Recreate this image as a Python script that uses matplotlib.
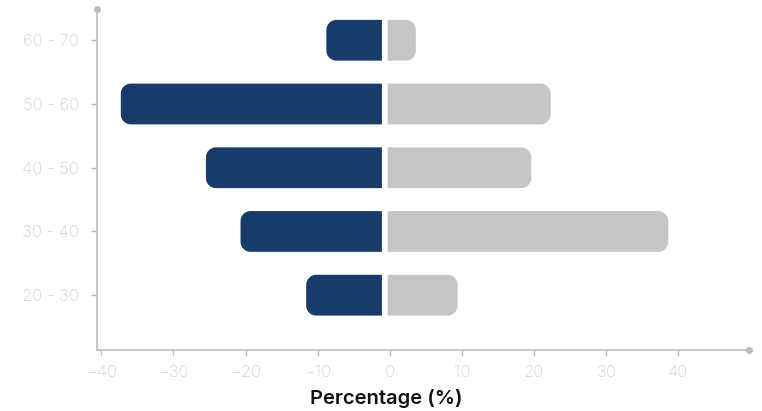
import numpy as np
import matplotlib.pyplot as plt
from matplotlib.path import Path
from matplotlib.patches import PathPatch

# age groups, bottom to top
groups = ['20 - 30', '30 - 40', '40 - 50', '50 - 60', '60 - 70']
# outer ends of the bars (percent)
left_vals = [-11.6, -20.7, -25.5, -37.3, -8.8]
right_vals = [9.4, 38.6, 19.6, 22.3, 3.6]

blue = '#173c6a'
grey = '#c6c6c6'
axis_col = '#bdbdbd'
label_col = '#d2d2d2'

plt.rcParams['font.family'] = ['Inter', 'DejaVu Sans']

fig = plt.figure(figsize=(7.62, 4.11), dpi=100)
ax = fig.add_axes([0.1273, 0.1484, 0.983 - 0.1273, 0.978 - 0.1484])
ax.set_xlim(-40.6, 49.8)
ax.set_ylim(-0.86, 4.49)

# corner radius in pixels -> data units
bbox = ax.get_window_extent()
px_x = bbox.width / (49.8 + 40.6)
px_y = bbox.height / (4.49 + 0.86)
r = 10
rx, ry = r / px_x, r / px_y
h = 0.64
k = 0.5523


def rounded_bar(x_in, x_out, y, color):
    s = 1 if x_out > x_in else -1
    y0, y1 = y - h / 2, y + h / 2
    verts = [(x_in, y0), (x_out - s * rx, y0),
             (x_out - s * rx * (1 - k), y0), (x_out, y0 + ry * (1 - k)), (x_out, y0 + ry),
             (x_out, y1 - ry),
             (x_out, y1 - ry * (1 - k)), (x_out - s * rx * (1 - k), y1), (x_out - s * rx, y1),
             (x_in, y1), (x_in, y0)]
    codes = [Path.MOVETO, Path.LINETO,
             Path.CURVE4, Path.CURVE4, Path.CURVE4,
             Path.LINETO,
             Path.CURVE4, Path.CURVE4, Path.CURVE4,
             Path.LINETO, Path.CLOSEPOLY]
    ax.add_patch(PathPatch(Path(verts, codes), facecolor=color, edgecolor='none'))


ypos = np.arange(len(groups))
for i in ypos:
    rounded_bar(-1.1, left_vals[i], i, blue)
    rounded_bar(-0.3, right_vals[i], i, grey)

ax.set_yticks(ypos)
ax.set_yticklabels(groups)
ax.set_xticks(np.arange(-40, 41, 10))

for s in ['top', 'right']:
    ax.spines[s].set_visible(False)
for s in ['left', 'bottom']:
    ax.spines[s].set_color(axis_col)
    ax.spines[s].set_linewidth(1.2)

ax.tick_params(axis='both', colors=axis_col, labelcolor=label_col, labelsize=12,
               length=4, width=1)
for lab in ax.get_xticklabels() + ax.get_yticklabels():
    lab.set_fontweight('light')
ax.tick_params(axis='y', pad=9)
ax.tick_params(axis='x', pad=7)

ax.plot([0], [1], 'o', transform=ax.transAxes, color=axis_col, ms=4, clip_on=False)
ax.plot([1], [0], 'o', transform=ax.transAxes, color=axis_col, ms=4, clip_on=False)

ax.set_xlabel('Percentage (%)', fontsize=14.5, fontweight='semibold', color='#111111')
ax.xaxis.set_label_coords(0.443, -0.143)
ax.xaxis.label.set_va('center')

fig.savefig('out.png', dpi=100)
